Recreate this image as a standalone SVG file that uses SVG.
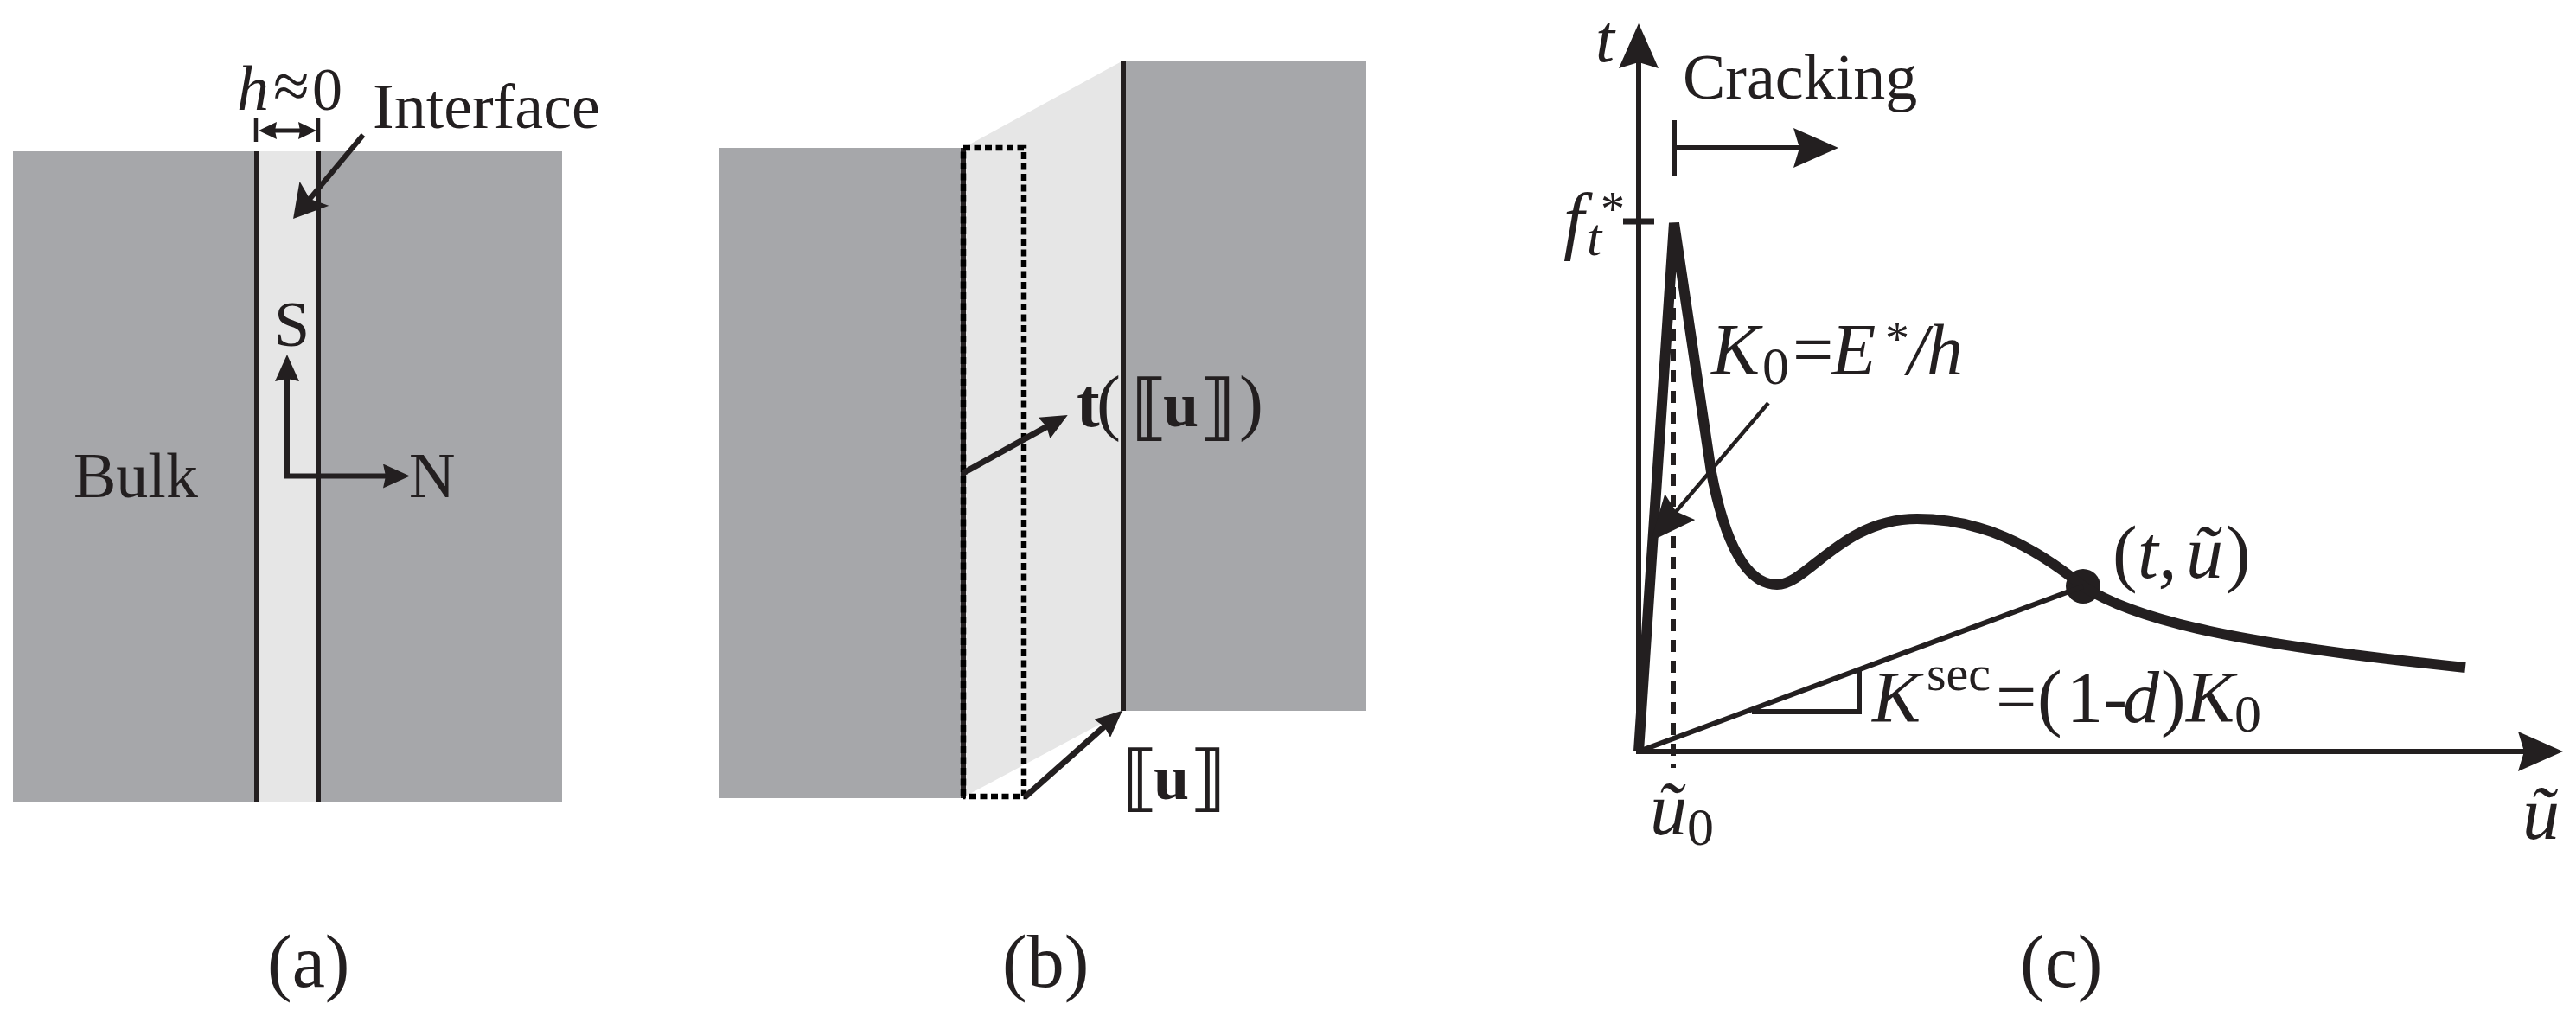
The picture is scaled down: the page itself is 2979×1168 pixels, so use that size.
<svg xmlns="http://www.w3.org/2000/svg" width="2979" height="1168" viewBox="0 0 2979 1168">
<style>
text{fill:#231f20;font-family:"Liberation Serif","Times New Roman",serif;font-size:74px}
.i{font-style:italic}
.b{font-weight:bold}
.cap{font-size:86px}
.sub{font-size:62px}
.sup{font-size:56px}
.br{font-family:"DejaVu Sans",sans-serif;font-weight:bold;font-size:84px;letter-spacing:-14px}
.bulk{fill:#a6a7aa}
.soft{fill:#e6e6e6}
.ln{stroke:#231f20;fill:none;stroke-width:6}
.thin{stroke:#231f20;fill:none;stroke-width:4.5}
.dot{stroke:#000;fill:none;stroke-width:6.5;stroke-dasharray:8 4.5}
.curve{stroke:#231f20;fill:none;stroke-width:12;stroke-miterlimit:2}
</style>
<defs>
<marker id="ax" markerUnits="userSpaceOnUse" markerWidth="52" markerHeight="46" viewBox="0 0 52 46" refX="9" refY="23" orient="auto"><path d="M0,0L52,23L0,46L7,23Z" fill="#231f20"/></marker>
<marker id="med" markerUnits="userSpaceOnUse" markerWidth="31" markerHeight="28" viewBox="0 0 31 28" refX="5" refY="14" orient="auto"><path d="M0,0L31,14L0,28L3,14Z" fill="#231f20"/></marker>
<marker id="ifc" markerUnits="userSpaceOnUse" markerWidth="38" markerHeight="44" viewBox="0 0 38 44" refX="10" refY="22" orient="auto"><path d="M0,0L38,22L0,44L8,22Z" fill="#231f20"/></marker>
<marker id="dim" markerUnits="userSpaceOnUse" markerWidth="21" markerHeight="20" viewBox="0 0 21 20" refX="4" refY="10" orient="auto-start-reverse"><path d="M0,0L21,10L0,20L2,10Z" fill="#231f20"/></marker>
</defs>

<g id="panel-a">
<rect class="bulk" x="15" y="175" width="635" height="752"/>
<rect class="soft" x="297" y="175" width="71" height="752"/>
<path class="ln" d="M297,175V927M368,175V927"/>
<path class="thin" d="M296,137V164M368,137V164"/>
<text class="i" x="274" y="127">h</text>
<text x="316" y="125" style="font-size:76px">≈</text>
<text x="361" y="127" style="font-size:70px">0</text>
<text x="431" y="148">Interface</text>
<text x="85" y="575">Bulk</text>
<text x="317" y="400">S</text>
<text x="473" y="575">N</text>
<text class="cap" x="309" y="1141">(a)</text>
</g>

<g id="panel-b">
<rect class="bulk" x="832" y="171" width="282" height="752"/>
<rect class="bulk" x="1299" y="70" width="281" height="752"/>
<path class="soft" d="M1114,171L1299,70V823L1114,922Z"/>
<path class="ln" d="M1114,171V923M1299,70V822"/>
<path class="dot" d="M1114,921V171H1184V921H1114"/>
<text x="1245" y="493" style="font-size:84px"><tspan class="b" style="font-size:80px">t</tspan><tspan x="1268">(</tspan><tspan class="br" x="1308" y="499">⟦</tspan><tspan class="b" style="font-size:74px" x="1345" y="493">u</tspan><tspan class="br" x="1386" y="499">⟧</tspan><tspan x="1433" y="493">)</tspan></text>
<text x="1297" y="928"><tspan class="br">⟦</tspan><tspan class="b" x="1334" y="924">u</tspan><tspan class="br" x="1375" y="928">⟧</tspan></text>
<text class="cap" x="1159" y="1141">(b)</text>
</g>

<g id="panel-c">
<circle cx="2409" cy="678" r="20" fill="#231f20"/>
<path class="curve" d="M1895,869L1936,258L1979,546C1995,630 2020,676 2055,676C2090,676 2130,600 2217,600C2290,600 2350,630 2409,678C2470,718 2590,745 2851,772"/>
<path class="ln" d="M1895,869L2409,678M2026,823H2150V776"/>
<path d="M1935,332V888" stroke="#231f20" fill="none" stroke-width="6" stroke-dasharray="14 10"/>
<path class="ln" style="stroke-width:7" d="M1877,256H1913"/>
<path class="ln" d="M1936,139V203"/>
<text class="i" x="1845" y="71" style="font-size:79px">t</text>
<text x="1946" y="114">Cracking</text>
<text class="i cap" x="1808" y="283">f</text>
<text class="i sub" x="1835" y="295">t</text>
<text class="sup" x="1851" y="261">*</text>
<text class="i cap" x="1979" y="433" style="font-size:84px">K</text>
<text class="sub" x="2038" y="444">0</text>
<text x="2073" y="433" style="font-size:84px">=</text>
<text class="i" x="2118" y="433" style="font-size:84px">E</text>
<text class="sup" x="2180" y="411">*</text>
<text class="i" x="2206" y="433" style="font-size:84px">/</text>
<text class="i" x="2228" y="433" style="font-size:84px">h</text>
<text class="cap" x="2443" y="668">(</text>
<text class="i cap" x="2472" y="668">t,</text>
<text class="i cap" x="2528" y="668">ũ</text>
<text class="cap" x="2574" y="668">)</text>
<text class="i" x="2165" y="835" style="font-size:84px">K</text>
<text class="sub" x="2228" y="798" style="font-size:58px">sec</text>
<text x="2308" y="835" style="font-size:84px">=</text>
<text class="cap" x="2356" y="835">(</text>
<text x="2390" y="835" style="font-size:84px">1-</text>
<text class="i" x="2455" y="835" style="font-size:84px">d</text>
<text class="cap" x="2499" y="835">)</text>
<text class="i" x="2528" y="835" style="font-size:84px">K</text>
<text class="sub" x="2584" y="846">0</text>
<text class="i cap" x="1908" y="965">ũ</text>
<text class="sub" x="1951" y="977">0</text>
<text class="i cap" x="2917" y="970">ũ</text>
<text class="cap" x="2336" y="1141">(c)</text>
</g>

<g id="connectors">
<path class="ln" style="stroke-width:5" d="M316,151H349" marker-start="url(#dim)" marker-end="url(#dim)"/>
<path class="ln" d="M420,156L357,231.5" marker-end="url(#ifc)"/>
<path class="ln" d="M332,553V436" marker-end="url(#med)"/>
<path class="ln" d="M329,550.5H448" marker-end="url(#med)"/>
<path class="ln" style="stroke-width:7" d="M1114,547L1212,492.6" marker-end="url(#med)"/>
<path class="ln" style="stroke-width:7" d="M1185,922L1278.5,839" marker-end="url(#med)"/>
<path class="ln" d="M1895,872V70" marker-end="url(#ax)"/>
<path class="ln" d="M1892,869H2921" marker-end="url(#ax)"/>
<path class="ln" d="M1936,171H2083" marker-end="url(#ax)"/>
<path class="thin" d="M2045,466L1937,593" marker-end="url(#ax)"/>
</g>
</svg>
